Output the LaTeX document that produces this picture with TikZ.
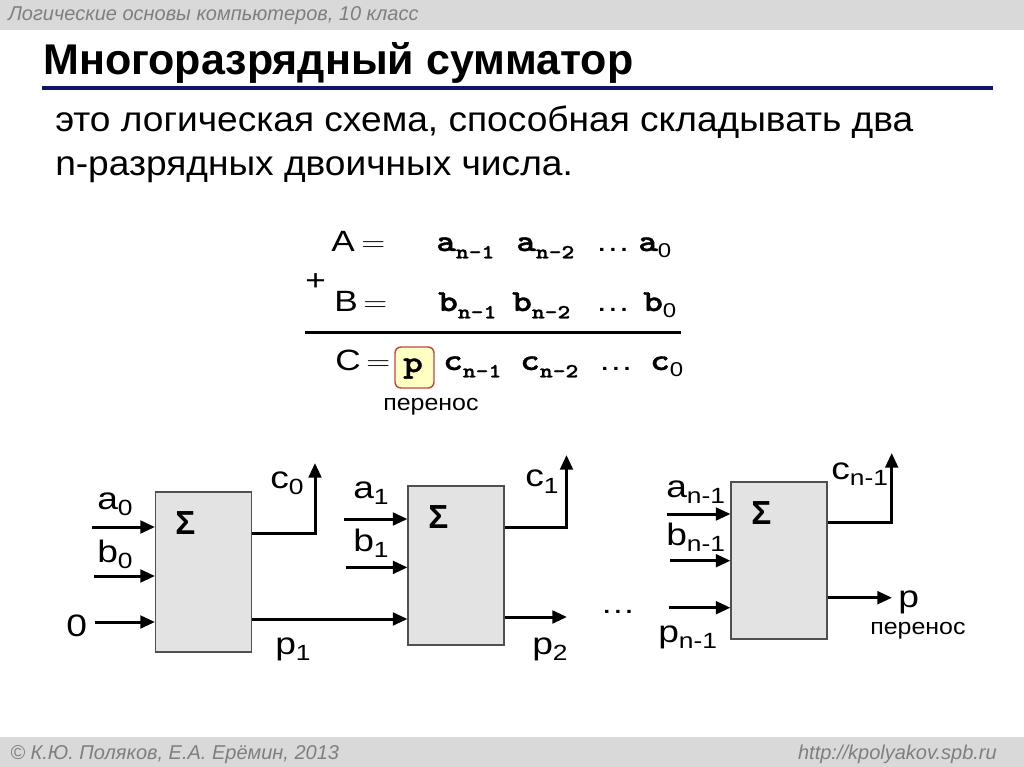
\documentclass[tikz,border=0pt]{standalone}
\usepackage{fontspec}
\setmainfont{Liberation Sans}
\newfontfamily\wide[FakeStretch=1.2]{Liberation Sans}
\newfontfamily\midw[FakeStretch=1.1]{Liberation Sans}
\newfontfamily\bodyf[FakeStretch=1.06]{Liberation Sans}
\newfontfamily\cour[FakeBold=1.2, FakeStretch=1.22]{lmmonolt10-bold.otf}
\usetikzlibrary{arrows.meta}
\definecolor{band}{HTML}{D9D9D9}
\definecolor{hdrtxt}{HTML}{7F7F7F}
\definecolor{navy}{HTML}{141464}
\definecolor{blockfill}{HTML}{E3E3E3}
\definecolor{blockline}{HTML}{505050}
\definecolor{pfill}{HTML}{FFFFC4}
\definecolor{pline}{HTML}{C04848}
\newcommand\fsz[1]{\fontsize{#1}{#1}\selectfont}
% circuit label with subscript
\newcommand\lbl[2]{\wide\fsz{23.25pt}#1\raisebox{-5pt}{\fsz{16.5pt}#2}}
% formula mono letters
\newcommand\mn[1]{{\cour\fsz{23pt}#1}}
\newcommand\mns[1]{\raisebox{-5.5pt}{\cour\fsz{15pt}#1}}
\newcommand\mnz{\raisebox{-4.5pt}{\wide\fsz{15pt}0}}
\newcommand\feq{\scalebox{1.2}[1]{\fsz{22pt}$=$}}
\newcommand\fdots{{\wide\fsz{22pt}…}}
\begin{document}
\begin{tikzpicture}[x=0.75pt,y=-0.75pt,
  txt/.style={inner sep=0pt, anchor=base west},
  arr/.style={line width=2.25pt, -{Triangle[length=11pt,width=9.5pt]}},
  blk/.style={draw=blockline, fill=blockfill, line width=0.8pt, inner sep=0pt, minimum width=72pt},
  sig/.style={inner sep=0pt, anchor=base west, font=\bfseries\fsz{25pt}}]
\useasboundingbox (0,0) rectangle (1024,767);
\fill[white] (0,0) rectangle (1024,767);
% header / footer bands
\fill[band] (0,0) rectangle (1024,30);
\fill[band] (0,737) rectangle (1024,767);
\node[txt, text=hdrtxt] (hdr) at (8,21) {\itshape\fsz{15pt}Логические основы компьютеров, 10 класс};
\node[txt, text=hdrtxt] (ftl) at (10,759) {\itshape\fsz{15pt}© К.Ю. Поляков, Е.А. Ерёмин, 2013};
\node[txt, text=hdrtxt, anchor=base east] (ftr) at (997,759) {\itshape\fsz{15pt}http://kpolyakov.spb.ru};
% title
\node[txt] (title) at (43,74.5) {\bfseries\fsz{32.25pt}Многоразрядный сумматор};
\draw[navy, line width=3pt] (42,88) -- (993,88);
% body
\node[txt] (body1) at (55,131.7) {\bodyf\fsz{26.25pt}это логическая схема, способная складывать два};
\node[txt] (body2) at (55,175) {\bodyf\fsz{26.25pt}n-разрядных двоичных числа.};
% formula
\node[txt] (fA) at (331,251) {\wide\fsz{22pt}A};
\node[txt] (fAe) at (361,251) {\feq};
\node[txt] (fa1) at (436,251) {\mn{a}\mns{n-1}};
\node[txt] (fa2) at (516,251) {\mn{a}\mns{n-2}};
\node[txt] (fad) at (595,251) {\fdots};
\node[txt] (fa0) at (638,251) {\mn{a}\mnz};
\node[txt] (fplus) at (305,290) {\wide\fsz{22pt}+};
\node[txt] (fB) at (334,311) {\wide\fsz{22pt}B};
\node[txt] (fBe) at (363,311) {\feq};
\node[txt] (fb1) at (438,311) {\mn{b}\mns{n-1}};
\node[txt] (fb2) at (512,311) {\mn{b}\mns{n-2}};
\node[txt] (fbd) at (595,311) {\fdots};
\node[txt] (fb0) at (643,311) {\mn{b}\mnz};
\draw[line width=2.25pt] (305,332) -- (681,332);
\node[txt] (fC) at (335,370) {\wide\fsz{22pt}C};
\node[txt] (fCe) at (366,370) {\feq};
\node[draw=pline, fill=pfill, rounded corners=4.5pt, line width=1.1pt, minimum width=29.25pt, minimum height=30.75pt, inner sep=0pt] (pbox) at (414.5,367.5) {};
\node[txt] (fp) at (403,372) {\mn{p}};
\node[txt] (fc1) at (443,370) {\mn{c}\mns{n-1}};
\node[txt] (fc2) at (520,370) {\mn{c}\mns{n-2}};
\node[txt] (fcd) at (598,370) {\fdots};
\node[txt] (fc0) at (650,370) {\mn{c}\mnz};
\node[txt] (fper) at (383,410) {\midw\fsz{17pt}перенос};
% blocks
\node[blk, minimum height=120pt] (s1) at (203.5,572) {};
\node[blk, minimum height=119.25pt] (s2) at (456,565.5) {};
\node[blk, minimum height=117.75pt] (s3) at (779,560.5) {};
\node[sig] (sg1) at (175,534) {Σ};
\node[sig] (sg2) at (428,528) {Σ};
\node[sig] (sg3) at (751,524) {Σ};
% block 1
\coordinate (ia0) at (92,527);
\coordinate (ib0) at (94,576);
\coordinate (iz0) at (95,622);
\coordinate (oc0) at (315,463);
\draw[arr] (ia0) -- (ia0 -| s1.west);
\draw[arr] (ib0) -- (ib0 -| s1.west);
\draw[arr] (iz0) -- (iz0 -| s1.west);
\draw[arr] (s1.east |- 0,533) -| (oc0);
\draw[arr] (s1.east |- 0,619) -- (s2.west |- 0,619);
\node[txt] (la0) at (97,509) {\lbl{a}{0}};
\node[txt] (lb0) at (97,562) {\lbl{b}{0}};
\node[txt] (lz0) at (66,636) {\wide\fsz{23.25pt}0};
\node[txt] (lc0) at (270,488) {\lbl{c}{0}};
\node[txt] (lp1) at (275,654) {\lbl{p}{1}};
% block 2
\coordinate (ia1) at (344,519);
\coordinate (ib1) at (346,567.4);
\coordinate (oc1) at (566.5,455);
\coordinate (op2) at (567,617);
\draw[arr] (ia1) -- (ia1 -| s2.west);
\draw[arr] (ib1) -- (ib1 -| s2.west);
\draw[arr] (s2.east |- 0,527.8) -| (oc1);
\draw[arr] (s2.east |- op2) -- (op2);
\node[txt] (la1) at (353,498) {\lbl{a}{1}};
\node[txt] (lb1) at (353,551) {\lbl{b}{1}};
\node[txt] (lc1) at (525,486.6) {\lbl{c}{1}};
\node[txt] (lp2) at (532,654) {\lbl{p}{2}};
% block 3
\coordinate (ian) at (667,514);
\coordinate (ibn) at (670,560.7);
\coordinate (ipn) at (669,607.7);
\coordinate (ocn) at (891.7,453);
\coordinate (opn) at (892,597.7);
\draw[arr] (ian) -- (ian -| s3.west);
\draw[arr] (ibn) -- (ibn -| s3.west);
\draw[arr] (ipn) -- (ipn -| s3.west);
\draw[arr] (s3.east |- 0,522.3) -| (ocn);
\draw[arr] (s3.east |- opn) -- (opn);
\node[txt] (lan) at (666,497) {\lbl{a}{n-1}};
\node[txt] (lbn) at (666,545) {\lbl{b}{n-1}};
\node[txt] (lpn) at (658,642) {\lbl{p}{n-1}};
\node[txt] (lcn) at (831,479) {\lbl{c}{n-1}};
\node[txt] (ldots) at (600,613) {\fdots};
\node[txt] (lp) at (898,607) {\wide\fsz{23.25pt}p};
\node[txt] (lper) at (870,634) {\midw\fsz{17pt}перенос};
\end{tikzpicture}
\end{document}
